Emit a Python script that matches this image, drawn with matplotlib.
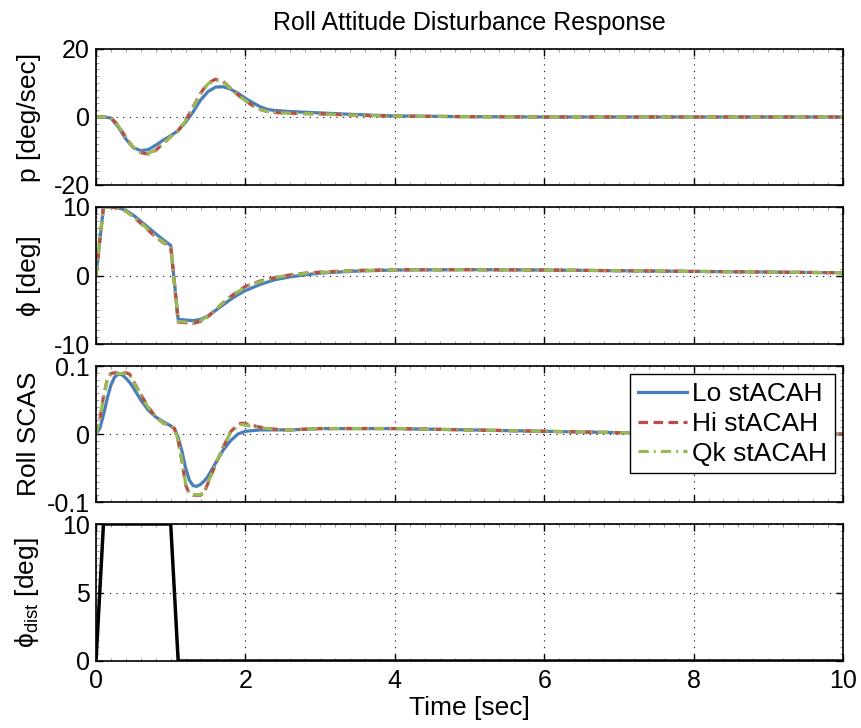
import numpy as np
import matplotlib
matplotlib.use('Agg')
import matplotlib.pyplot as plt
from matplotlib.ticker import MultipleLocator

plt.rcParams['font.family'] = ['Liberation Sans', 'DejaVu Sans']
plt.rcParams['mathtext.fontset'] = 'custom'
plt.rcParams['mathtext.rm'] = 'Liberation Sans'
plt.rcParams['mathtext.it'] = 'Liberation Sans:italic'

# Roll rate p [deg/sec]
t_p = [0, 0.1, 0.2, 0.3, 0.4, 0.5, 0.6, 0.7, 0.8, 0.9, 1.0, 1.1, 1.2, 1.3, 1.4,
       1.5, 1.6, 1.7, 1.8, 1.9, 2.0, 2.1, 2.2, 2.3, 2.4, 2.6, 2.8, 3.0, 3.5, 4, 5, 6, 10]
p_lo = [0, 0, -0.3, -3.0, -6.5, -9.0, -9.9, -9.6, -8.3, -6.8, -5.5, -4.0, -1.5, 1.5, 5.0,
        7.5, 8.8, 8.9, 8.2, 7.0, 5.5, 4.2, 3.0, 2.2, 1.9, 1.6, 1.4, 1.2, 0.7, 0.3, 0.1, 0, 0]
p_hi = [0, 0, -0.2, -2.5, -6.0, -9.0, -10.5, -10.9, -9.8, -7.8, -5.8, -4.0, -1.0, 3.0, 7.0,
        10.0, 11.1, 10.5, 8.5, 6.5, 4.8, 3.3, 2.2, 1.6, 1.3, 1.1, 1.0, 0.9, 0.5, 0.25, 0.1, 0, 0]
p_qk = [0, 0, -0.2, -2.6, -6.1, -9.0, -10.4, -10.7, -9.7, -7.7, -5.8, -4.0, -1.1, 2.8, 6.8,
        9.8, 10.8, 10.3, 8.4, 6.4, 4.8, 3.3, 2.2, 1.6, 1.3, 1.1, 1.0, 0.9, 0.5, 0.25, 0.1, 0, 0]

# Roll attitude phi [deg]
t_phi = [0, 0.1, 0.2, 0.3, 0.4, 0.5, 0.6, 0.7, 0.8, 0.9, 1.0, 1.1, 1.2, 1.3, 1.4, 1.5,
         1.6, 1.7, 1.8, 1.9, 2.0, 2.2, 2.4, 2.6, 2.8, 3.0, 3.5, 4, 5, 6, 7, 8, 9, 10]
phi_lo = [0, 10, 10, 9.9, 9.5, 8.8, 7.9, 7.0, 6.1, 5.2, 4.4, -6.4, -6.5, -6.6, -6.4, -5.9,
          -5.1, -4.3, -3.5, -2.8, -2.2, -1.3, -0.6, -0.2, 0.1, 0.35, 0.65, 0.8, 0.85, 0.8, 0.7, 0.6, 0.5, 0.4]
phi_hi = [0, 10, 10, 9.8, 9.4, 8.6, 7.6, 6.6, 5.6, 4.8, 4.3, -6.8, -6.9, -7.0, -6.7, -6.0,
          -5.0, -4.0, -3.1, -2.3, -1.6, -0.8, -0.3, 0.1, 0.35, 0.5, 0.75, 0.85, 0.85, 0.8, 0.7, 0.6, 0.5, 0.4]
phi_qk = [0, 10, 10, 9.8, 9.4, 8.6, 7.7, 6.7, 5.7, 4.9, 4.3, -6.7, -6.8, -6.9, -6.6, -5.9,
          -5.0, -4.0, -3.1, -2.4, -1.7, -0.9, -0.3, 0.05, 0.3, 0.45, 0.7, 0.85, 0.85, 0.8, 0.7, 0.6, 0.5, 0.4]

# Roll SCAS command
t_scas = [0, 0.05, 0.1, 0.15, 0.2, 0.25, 0.3, 0.35, 0.4, 0.45, 0.5, 0.6, 0.7, 0.8, 0.9, 1.0,
          1.05, 1.1, 1.15, 1.2, 1.25, 1.3, 1.35, 1.4, 1.45, 1.5, 1.6, 1.7, 1.8, 1.9, 1.95,
          2.0, 2.2, 2.4, 2.6, 3, 4, 5, 6, 7, 8, 9, 10]
scas_lo = [0, 0.008, 0.028, 0.052, 0.072, 0.084, 0.088, 0.087, 0.082, 0.076, 0.068, 0.050, 0.035,
           0.025, 0.018, 0.012, 0.008, -0.005, -0.025, -0.050, -0.068, -0.076, -0.077, -0.074,
           -0.069, -0.062, -0.043, -0.024, -0.010, 0.000, 0.002, 0.004, 0.006, 0.006, 0.006,
           0.008, 0.008, 0.006, 0.004, 0.002, 0.001, 0, 0]
scas_hi = [0, 0.020, 0.055, 0.080, 0.089, 0.090, 0.090, 0.090, 0.090, 0.088, 0.078, 0.058, 0.040,
           0.025, 0.016, 0.012, 0.008, -0.010, -0.040, -0.075, -0.088, -0.090, -0.090, -0.090,
           -0.086, -0.072, -0.045, -0.020, 0.003, 0.014, 0.016, 0.015, 0.010, 0.007, 0.006,
           0.008, 0.008, 0.006, 0.004, 0.002, 0.001, 0, 0]
scas_qk = [0, 0.019, 0.053, 0.079, 0.088, 0.089, 0.089, 0.089, 0.089, 0.087, 0.077, 0.057, 0.039,
           0.025, 0.016, 0.012, 0.008, -0.009, -0.038, -0.073, -0.087, -0.089, -0.089, -0.089,
           -0.085, -0.071, -0.045, -0.020, 0.002, 0.012, 0.014, 0.013, 0.009, 0.007, 0.006,
           0.008, 0.008, 0.006, 0.004, 0.002, 0.001, 0, 0]

# Disturbance phi_dist [deg]
t_dist = [0, 0.1, 1.0, 1.1, 10]
phi_dist = [0, 10, 10, 0, 0]

labels = ['Lo stACAH', 'Hi stACAH', 'Qk stACAH']
colors = ['#4a7ebb', '#be4b48', '#98b954']
styles = ['-', (0, (3.0, 1.7)), (0, (3.2, 1.6, 0.6, 1.6))]

fig = plt.figure(figsize=(8.61, 7.28), dpi=100)
left, width = 96 / 861, 747 / 861
tops = [49, 207, 366, 524]
bots = [185, 344, 502, 661]
axes = []
for tp, bt in zip(tops, bots):
    ax = fig.add_axes([left, 1 - bt / 728, width, (bt - tp) / 728])
    axes.append(ax)

series = [
    (t_p, [p_lo, p_hi, p_qk], (-20, 20), [-20, 0, 20], 'p [deg/sec]'),
    (t_phi, [phi_lo, phi_hi, phi_qk], (-10, 10), [-10, 0, 10], 'ϕ [deg]'),
    (t_scas, [scas_lo, scas_hi, scas_qk], (-0.1, 0.1), [-0.1, 0, 0.1], 'Roll SCAS'),
]

for ax, (t, ys, ylim, yt, lab) in zip(axes[:3], series):
    for y, c, ls, name in zip(ys, colors, styles, labels):
        ax.plot(t, y, color=c, linestyle=ls, linewidth=2.3, label=name)
    ax.set_ylim(*ylim)
    ax.set_yticks(yt)
    ax.set_yticklabels(['%g' % v for v in yt])
    ax.set_ylabel(lab, fontsize=19)

axes[3].plot(t_dist, phi_dist, color='black', linewidth=2.5)
axes[3].set_ylim(0, 10)
axes[3].set_yticks([0, 5, 10])
axes[3].set_ylabel(r'$\mathrm{\phi_{dist}}$ [deg]', fontsize=19)

for i, ax in enumerate(axes):
    ax.set_xlim(0, 10)
    ax.set_xticks([0, 2, 4, 6, 8, 10])
    ax.xaxis.set_minor_locator(MultipleLocator(0.2))
    ax.yaxis.set_minor_locator(MultipleLocator((ax.get_ylim()[1] - ax.get_ylim()[0]) / 20))
    ax.tick_params(which='both', direction='in', top=True, right=True, labelsize=18)
    ax.tick_params(axis='y', pad=4.5)
    ax.tick_params(axis='x', pad=6)
    ax.tick_params(which='major', length=5, width=1)
    ax.tick_params(which='minor', length=2, width=0.5, color='#777777')
    ax.grid(True, which='major', linestyle=(0, (1, 5)), color='black', linewidth=0.8)
    for s in ax.spines.values():
        s.set_linewidth(1.2)
    if i < 3:
        ax.set_xticklabels([])
    ax.yaxis.set_label_coords(-0.073, 0.5)

axes[0].set_title('Roll Attitude Disturbance Response', fontsize=18, pad=14)
axes[3].set_xlabel('Time [sec]', fontsize=19, labelpad=2)

leg = axes[2].legend(loc='upper right', fontsize=19, frameon=True, fancybox=False,
                     edgecolor='black', framealpha=1, handlelength=1.85,
                     borderpad=0.3, labelspacing=0.22, handletextpad=0.2,
                     borderaxespad=0, bbox_to_anchor=(0.989, 0.941))
leg.get_frame().set_linewidth(1.0)

fig.savefig('out.png', dpi=100)
